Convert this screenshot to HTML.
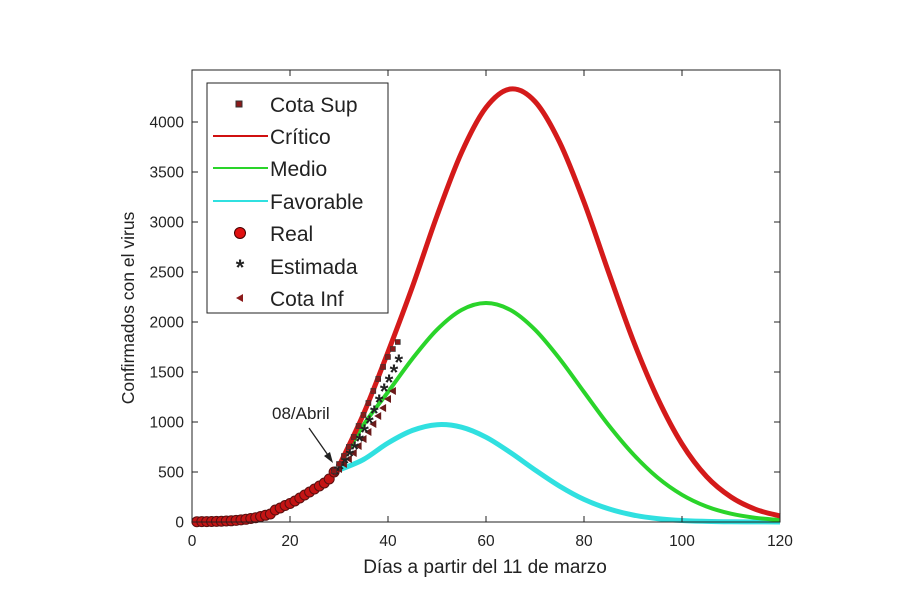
<!DOCTYPE html>
<html><head><meta charset="utf-8"><style>
body{margin:0;background:#fff;}
svg text{font-family:"Liberation Sans",sans-serif;fill:#222;}
</style></head><body>
<svg id="chart" width="900" height="600" xmlns="http://www.w3.org/2000/svg">
<g id="curves"></g>
<g id="markers"></g>
<rect x="192" y="70" width="588" height="452" fill="none" stroke="#222" stroke-width="1"/>
<g id="ticks"></g>
<text x="485" y="573" font-size="19" text-anchor="middle">Días a partir del 11 de marzo</text>
<text transform="translate(134,308) rotate(-90)" font-size="17.5" text-anchor="middle">Confirmados con el virus</text>
<text x="272" y="419" font-size="17">08/Abril</text>
<line x1="309" y1="428" x2="330" y2="458" stroke="#222" stroke-width="1.3"/>
<polygon points="333,463 324,456 330,452" fill="#222"/>
<g>
<rect x="207" y="83" width="181" height="230" fill="#fff" stroke="#222" stroke-width="1"/>
<rect x="236" y="101" width="6" height="6" fill="#8b1a1a" stroke="#333"/>
<text x="270" y="112" font-size="21">Cota Sup</text>
<line x1="213" y1="136" x2="268" y2="136" stroke="#d01010" stroke-width="2"/>
<text x="270" y="144" font-size="21">Crítico</text>
<line x1="213" y1="168" x2="268" y2="168" stroke="#2ad42a" stroke-width="2"/>
<text x="270" y="176" font-size="21">Medio</text>
<line x1="213" y1="201" x2="268" y2="201" stroke="#30e0e0" stroke-width="2"/>
<text x="270" y="209" font-size="21">Favorable</text>
<circle cx="240" cy="233" r="5.5" fill="#e01010" stroke="#400"/>
<text x="240" y="275" font-size="22" text-anchor="middle" font-weight="bold">*</text>
<text x="270" y="241" font-size="21">Real</text>
<text x="270" y="274" font-size="21">Estimada</text>
<polygon points="236,298 243,294 243,302" fill="#8b1a1a"/>
<text x="270" y="306" font-size="21">Cota Inf</text>
</g>
</svg>
<script>
const modelDays=[30,35,40,45,50,55,60,65,70,75,80,85,90,95,100,105,110,115,120];
const critico=[560,1080,1700,2355,3062,3694,4145,4330,4205,3800,3200,2500,1820,1240,780,455,250,127,60];
const medio=[560,970,1300,1634,1923,2120,2190,2120,1923,1634,1300,970,680,445,272,155,83,42,20];
const favorable=[520,625,790,916,973,948,848,694,521,359,226,132,70,34,15,6,2,1,0];
const realDays=[1,2,3,4,5,6,7,8,9,10,11,12,13,14,15,16,17,18,19,20,21,22,23,24,25,26,27,28,29];
const realVals=[3,4,4,5,6,8,10,12,16,21,27,35,43,55,67,80,120,140,165,185,210,240,270,300,330,360,390,430,500];
const estDays=[29,30,31,32,33,34,35,36,37,38,39,40,41,42];
const estVals=[500,550,610,680,750,830,920,1010,1110,1220,1330,1420,1520,1620];
const supDays=[29,30,31,32,33,34,35,36,37,38,39,40,41,42];
const supVals=[510,580,660,750,850,960,1070,1190,1310,1430,1550,1650,1730,1800];
const infDays=[29,30,31,32,33,34,35,36,37,38,39,40,41];
const infVals=[490,530,580,630,690,760,830,900,980,1060,1140,1230,1310];
const xTicks=[0,20,40,60,80,100,120];
const yTicks=[0,500,1000,1500,2000,2500,3000,3500,4000];

const NS="http://www.w3.org/2000/svg";
const X=d=>192+d*588/120;
const Y=v=>522-v*0.1;
function mk(tag,attrs,parent){const e=document.createElementNS(NS,tag);for(const k in attrs)e.setAttribute(k,attrs[k]);parent.appendChild(e);return e;}
function smooth(xs,ys){const p=xs.map((d,i)=>[X(d),Y(ys[i])]);let s="M"+p[0][0]+","+p[0][1];
for(let i=0;i<p.length-1;i++){const a=p[i-1]||p[i],b=p[i],c=p[i+1],e=p[i+2]||c;
s+=" C"+(b[0]+(c[0]-a[0])/6)+","+(b[1]+(c[1]-a[1])/6)+" "+(c[0]-(e[0]-b[0])/6)+","+(c[1]-(e[1]-b[1])/6)+" "+c[0]+","+c[1];}return s;}
const cg=document.getElementById('curves');
const c1=mk('path',{d:smooth(modelDays,favorable),fill:'none',stroke:'#30e0e0','stroke-width':5},cg);


const c2=mk('path',{d:smooth(modelDays,medio),fill:'none',stroke:'#2ad42a','stroke-width':4},cg);


const c3=mk('path',{d:smooth(modelDays,critico),fill:'none',stroke:'#d41a1a','stroke-width':5},cg);


const mg=document.getElementById('markers');
realDays.forEach((d,i)=>{const c=mk('circle',{cx:X(d),cy:Y(realVals[i]),r:5,fill:'#c41414',stroke:'#5a1010','stroke-width':1},mg);

});
infDays.forEach((d,i)=>{const x=X(d),y=Y(infVals[i]);const t=mk('polygon',{points:(x-4)+","+y+" "+(x+3)+","+(y-4)+" "+(x+3)+","+(y+4),fill:'#6b1a1a'},mg);

});
estDays.forEach((d,i)=>{const t=mk('text',{x:X(d)+1,y:Y(estVals[i])+10,'font-size':22,'font-weight':'bold','text-anchor':'middle'},mg);t.textContent='*';

});
supDays.forEach((d,i)=>{const r=mk('rect',{x:X(d)-2.5,y:Y(supVals[i])-2.5,width:5,height:5,fill:'#8b1a1a',stroke:'#333','stroke-width':0.6},mg);

});
const tg=document.getElementById('ticks');
xTicks.forEach(t=>{const x=X(t);mk('line',{x1:x,y1:522,x2:x,y2:516,stroke:'#222'},tg);mk('line',{x1:x,y1:70,x2:x,y2:76,stroke:'#222'},tg);
const l=mk('text',{x:x,y:546,'font-size':15.5,'text-anchor':'middle'},tg);l.textContent=t;

});
yTicks.forEach(t=>{const y=Y(t);mk('line',{x1:192,y1:y,x2:198,y2:y,stroke:'#222'},tg);mk('line',{x1:780,y1:y,x2:774,y2:y,stroke:'#222'},tg);
const l=mk('text',{x:184,y:y+5.5,'font-size':15.5,'text-anchor':'end'},tg);l.textContent=t;

});
</script>
</body></html>
